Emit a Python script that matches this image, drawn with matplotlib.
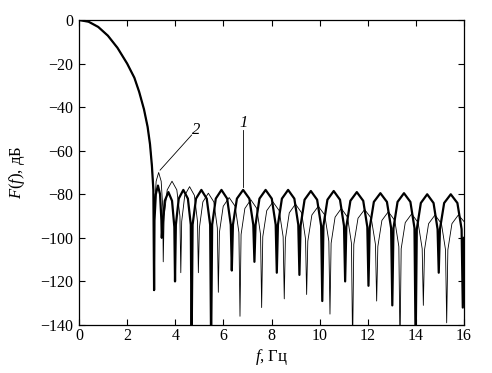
import numpy as np
import matplotlib
matplotlib.use("Agg")
import matplotlib.pyplot as plt

plt.rcParams['font.family'] = 'serif'
plt.rcParams['font.serif'] = ['Liberation Serif', 'DejaVu Serif']
plt.rcParams['mathtext.fontset'] = 'custom'
plt.rcParams['mathtext.rm'] = 'Liberation Serif'
plt.rcParams['mathtext.it'] = 'Liberation Serif:italic'

# main lobe, common to both curves (f in Hz, level in dB)
main_f = [0, 0.4, 0.8, 1.2, 1.6, 2.0, 2.3, 2.5, 2.7, 2.85, 2.95, 3.03, 3.09]
main_db = [0, -0.8, -3.2, -7.2, -12.8, -20, -26.5, -33, -41, -49, -57, -67, -78]

# curve 1 (thick) side lobes: null, rise, peak, fall ... read lobe by lobe
c1_f = [3.12, 3.136, 3.192, 3.28, 3.368, 3.424,
        3.44, 3.468, 3.564, 3.715, 3.866, 3.962,
        3.99, 4.025, 4.145, 4.335, 4.525, 4.645,
        4.68, 4.72, 4.862, 5.085, 5.308, 5.45,
        5.49, 5.533, 5.684, 5.92, 6.157, 6.307,
        6.35, 6.397, 6.562, 6.82, 7.079, 7.243,
        7.29, 7.337, 7.499, 7.755, 8.011, 8.174,
        8.22, 8.267, 8.432, 8.69, 8.949, 9.113,
        9.16, 9.208, 9.374, 9.635, 9.896, 10.063,
        10.11, 10.158, 10.324, 10.585, 10.846, 11.013,
        11.06, 11.109, 11.278, 11.545, 11.812, 11.982,
        12.03, 12.08, 12.253, 12.525, 12.797, 12.971,
        13.02, 13.069, 13.238, 13.505, 13.772, 13.942,
        13.99, 14.038, 14.206, 14.47, 14.734, 14.902,
        14.95, 15.0, 15.175, 15.45, 15.725, 15.9,
        15.95, 16.0]
c1_db = [-124, -92, -80, -76, -80, -92,
         -100, -95, -83, -79, -83, -95,
         -120, -94, -82, -78, -82, -94,
         -150, -94, -82, -78, -82, -94,
         -150, -94, -82, -78, -82, -94,
         -115, -94, -82, -78, -82, -94,
         -111, -94, -82, -78, -82, -94,
         -116, -94, -82, -78, -82, -94,
         -117, -94.5, -82.5, -78.5, -82.5, -94.5,
         -129, -94.5, -82.5, -78.5, -82.5, -94.5,
         -120, -95, -83, -79, -83, -95,
         -122, -95.5, -83.5, -79.5, -83.5, -95.5,
         -131, -95.5, -83.5, -79.5, -83.5, -95.5,
         -150, -96, -84, -80, -84, -96,
         -116, -96, -84, -80, -84, -96,
         -132, -100]

# curve 2 (thin) side lobes
c2_f = [3.12, 3.139, 3.2055, 3.31, 3.4145, 3.481,
        3.50, 3.537, 3.665, 3.865, 4.065, 4.194,
        4.23, 4.267, 4.395, 4.595, 4.795, 4.924,
        4.96, 5.002, 5.147, 5.375, 5.603, 5.749,
        5.79, 5.835, 5.993, 6.24, 6.488, 6.645,
        6.69, 6.735, 6.893, 7.14, 7.388, 7.545,
        7.59, 7.637, 7.802, 8.06, 8.319, 8.483,
        8.53, 8.577, 8.739, 8.995, 9.251, 9.414,
        9.46, 9.509, 9.678, 9.945, 10.212, 10.382,
        10.43, 10.477, 10.642, 10.9, 11.159, 11.323,
        11.37, 11.42, 11.595, 11.87, 12.145, 12.32,
        12.37, 12.419, 12.588, 12.855, 13.122, 13.292,
        13.34, 13.389, 13.558, 13.825, 14.092, 14.262,
        14.31, 14.359, 14.528, 14.795, 15.062, 15.232,
        15.28, 15.329, 15.498, 15.765, 16.0]
c2_db = [-124, -86, -74, -70, -74, -86,
         -111, -90, -78, -74, -78, -90,
         -116, -92.5, -80.5, -76.5, -80.5, -92.5,
         -116, -95.5, -83.5, -79.5, -83.5, -95.5,
         -125, -97.5, -85.5, -81.5, -85.5, -97.5,
         -136, -98.5, -86.5, -82.5, -86.5, -98.5,
         -132, -99.5, -87.5, -83.5, -87.5, -99.5,
         -128, -100.5, -88.5, -84.5, -88.5, -100.5,
         -126, -101.5, -89.5, -85.5, -89.5, -101.5,
         -135, -102.5, -90.5, -86.5, -90.5, -102.5,
         -150, -103, -91, -87, -91, -103,
         -129, -104, -92, -88, -92, -104,
         -150, -105, -93, -89, -93, -105,
         -131, -105.5, -93.5, -89.5, -93.5, -105.5,
         -139, -105.5, -93.5, -89.5, -92.5]

xticks = np.arange(0, 17, 2)
yticks = np.arange(-140, 1, 20)

fig = plt.figure(figsize=(4.92, 3.73), dpi=100)
ax = fig.add_axes([0.1606, 0.1287, 0.7825, 0.8177])

f2 = main_f + c2_f
d2 = main_db + c2_db
f1 = main_f + c1_f
d1 = main_db + c1_db
ax.plot(f2, d2, color='black', lw=0.6, zorder=2)
ax.plot(f1, d1, color='black', lw=1.6, zorder=3)

ax.set_xlim(0, 16)
ax.set_ylim(-140, 0)
ax.set_xticks(xticks)
ax.set_yticks(yticks)
ax.tick_params(direction='in', top=True, right=True, length=4, width=0.8,
               labelsize=11.5)
ax.tick_params(axis='x', pad=2.5)
ax.tick_params(axis='y', pad=4)
for s in ax.spines.values():
    s.set_linewidth(0.9)

ax.set_xlabel(r'$f$, Гц', fontsize=12)
ax.set_ylabel(r'$F(f)$, дБ', fontsize=12)
ax.xaxis.set_label_coords(0.5, -0.072)
ax.yaxis.set_label_coords(-0.135, 0.5)

# curve labels with leader lines
ax.plot([3.37, 4.68], [-68.9, -52.8], color='black', lw=0.6)
ax.text(4.86, -50.5, '2', fontsize=12, style='italic', ha='center', va='center')
ax.plot([6.82, 6.82], [-76.5, -50.5], color='black', lw=0.6)
ax.text(6.82, -47.5, '1', fontsize=12, style='italic', ha='center', va='center')

fig.savefig('out.png', dpi=100)
